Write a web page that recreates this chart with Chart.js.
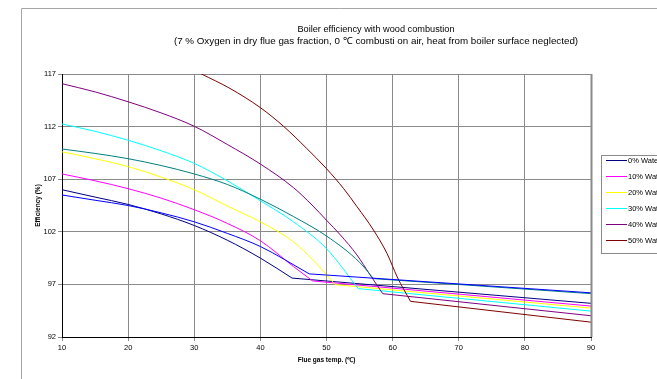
<!DOCTYPE html>
<html>
<head>
<meta charset="utf-8">
<script src="https://cdn.jsdelivr.net/npm/chart.js@4"></script>
<style>
html, body { margin: 0; padding: 0; background: #fff; }
</style>
</head>
<body>
<canvas id="boiler_chart" width="657" height="379"></canvas>
<script>
const seriesNames  = ['0% Water', '10% Water', '20% Water', '30% Water', '40% Water', '50% Water', 'Series7', 'Series8'];
const seriesColors = ['#000080', '#FF00FF', '#FFFF00', '#00FFFF', '#800080', '#800000', '#008080', '#0000FF'];

// flue gas temp (C) / efficiency (%) per series; the last two points are the straight tail after the kink
const temp0 = [10, 15, 20, 25, 30, 35, 40, 44.8, 90];
const eff0  = [106.0, 105.3, 104.6, 103.7, 102.6, 101.2, 99.5, 97.6, 95.2];
const temp1 = [10, 15, 20, 25, 30, 35, 40, 45, 47.9, 90];
const eff1  = [107.5, 106.85, 106.1, 105.2, 104.1, 102.8, 101.15, 98.7, 97.33, 94.94];
const temp2 = [10, 15, 20, 25, 30, 35, 40, 45, 48, 51.3, 90];
const eff2  = [109.6, 108.95, 108.2, 107.2, 106.0, 104.45, 102.95, 101.05, 99.3, 96.98, 94.75];
const temp3 = [10, 15, 20, 25, 30, 35, 40, 45, 50, 54.8, 90];
const eff3  = [112.25, 111.55, 110.7, 109.7, 108.5, 106.85, 104.95, 102.95, 100.4, 96.6, 94.46];
const temp4 = [10, 15, 20, 25, 30, 35, 40, 45, 47.8, 50, 52.1, 54.6, 56.6, 58.5, 90];
const eff4  = [116.08, 115.3, 114.36, 113.3, 112.03, 110.3, 108.44, 106.2, 104.55, 103.1, 101.7, 99.8, 97.9, 96.12, 94.02];
const temp5 = [10, 15, 20, 25, 30, 31.1, 35.4, 40, 43.5, 47, 50, 52.6, 54.6, 57.1, 59.15, 60.7, 62.7, 90];
const eff5  = [121.9, 121.0, 120.0, 118.8, 117.35, 117.0, 115.63, 113.8, 112.03, 109.93, 108.0, 106.1, 104.4, 102.17, 99.94, 97.7, 95.39, 93.41];
const temp6 = [10, 15, 20, 25, 30, 35, 40, 45, 50, 55, 57.1, 90];
const eff6  = [109.87, 109.45, 108.95, 108.3, 107.5, 106.5, 105.1, 103.45, 101.6, 99.1, 97.55, 96.12];
const temp7 = [10, 15, 20, 25, 30, 35, 40, 47.4, 90];
const eff7  = [105.5, 105.0, 104.5, 103.8, 102.95, 101.85, 100.6, 98.0, 96.2];

const allTemps = [temp0, temp1, temp2, temp3, temp4, temp5, temp6, temp7];
const allEffs  = [eff0, eff1, eff2, eff3, eff4, eff5, eff6, eff7];

const xTicks = [10, 20, 30, 40, 50, 60, 70, 80, 90];
const yTicks = [92, 97, 102, 107, 112, 117];
const legendCount = 6;

const titleLines = [
    'Boiler efficiency with wood combustion',
    '(7 % Oxygen in dry flue gas fraction, 0 \u2103 combusti on air, heat from boiler surface neglected)'
];
const xTitle = 'Flue gas temp. (\u2103)';
const yTitle = 'Efficiency (%)';

const FONT = '"Liberation Sans", Arial, sans-serif';

const toPoints = (ts, es) => ts.map((t, j) => ({ x: t, y: es[j] }));

// curved part (smoothed) and straight tail drawn as two datasets of the same colour
const datasets = [];
seriesNames.forEach((name, i) => {
    const ts = allTemps[i], es = allEffs[i];
    const k = ts.length - 2;
    datasets.push({
        label: name,
        data: toPoints(ts.slice(0, k + 1), es.slice(0, k + 1)),
        borderColor: seriesColors[i],
        backgroundColor: seriesColors[i],
        borderWidth: 1,
        pointRadius: 0,
        cubicInterpolationMode: 'monotone',
        order: -i
    });
    datasets.push({
        label: name + ' tail',
        data: toPoints(ts.slice(k), es.slice(k)),
        borderColor: seriesColors[i],
        backgroundColor: seriesColors[i],
        borderWidth: 1,
        pointRadius: 0,
        order: -i
    });
});

const decorations = {
    id: 'decorations',
    beforeDraw(chart) {
        const c = chart.ctx;
        c.save();
        c.fillStyle = '#fff';
        c.fillRect(0, 0, chart.width, chart.height);
        c.strokeStyle = '#a6a6a6';
        c.lineWidth = 1;
        c.beginPath();
        c.moveTo(21.5, chart.height);
        c.lineTo(21.5, 8.5);
        c.lineTo(chart.width, 8.5);
        c.stroke();
        c.restore();
    },
    afterDraw(chart) {
        const c = chart.ctx;
        const area = chart.chartArea;
        c.save();

        // plot area border right
        c.strokeStyle = '#8a8a8a';
        c.lineWidth = 2;
        c.beginPath();
        c.moveTo(area.right + 0.5, area.top);
        c.lineTo(area.right + 0.5, area.bottom);
        c.stroke();

        // chart title
        c.fillStyle = '#000';
        c.textAlign = 'center';
        c.textBaseline = 'middle';
        c.font = '9.2px ' + FONT;
        c.fillText(titleLines[0], 376, 29.5);
        c.font = '9.8px ' + FONT;
        c.fillText(titleLines[1], 376, 41);

        // axis titles
        c.font = 'bold 6.5px ' + FONT;
        c.fillText(xTitle, (area.left + area.right) / 2, 360);
        c.save();
        c.translate(38.5, (area.top + area.bottom) / 2);
        c.rotate(-Math.PI / 2);
        c.fillText(yTitle, 0, 0);
        c.restore();

        // legend box
        c.strokeStyle = '#8a8a8a';
        c.lineWidth = 1;
        c.strokeRect(601.5, 155.5, 80, 98);
        c.font = '7.5px ' + FONT;
        c.textAlign = 'left';
        for (let i = 0; i < legendCount; i++) {
            const y = 160.5 + i * 16;
            c.strokeStyle = seriesColors[i];
            c.beginPath();
            c.moveTo(606, y);
            c.lineTo(627, y);
            c.stroke();
            c.fillStyle = '#000';
            c.fillText(seriesNames[i], 628, y);
        }
        c.restore();
    }
};

new Chart(document.getElementById('boiler_chart'), {
    type: 'line',
    data: { datasets: datasets },
    options: {
        responsive: false,
        animation: false,
        layout: { padding: { left: 22, right: 66, top: 74, bottom: 0 } },
        plugins: {
            legend: { display: false },
            title: { display: false },
            tooltip: { enabled: false }
        },
        scales: {
            x: {
                type: 'linear',
                min: 10,
                max: 90,
                afterFit: (s) => { s.height = 42; },
                afterBuildTicks: (s) => { s.ticks = xTicks.map(v => ({ value: v })); },
                ticks: {
                    color: '#000',
                    padding: 2,
                    maxRotation: 0,
                    font: { family: FONT, size: 7.5 }
                },
                grid: { color: '#8a8a8a', tickLength: 4 },
                border: { color: '#000', width: 1 }
            },
            y: {
                min: 92,
                max: 117,
                afterFit: (s) => { s.width = 40; },
                afterBuildTicks: (s) => { s.ticks = yTicks.map(v => ({ value: v })); },
                ticks: {
                    color: '#000',
                    padding: 2,
                    font: { family: FONT, size: 7.5 }
                },
                grid: { color: '#8a8a8a', tickLength: 4 },
                border: { color: '#000', width: 1 }
            }
        }
    },
    plugins: [decorations]
});
</script>
</body>
</html>
